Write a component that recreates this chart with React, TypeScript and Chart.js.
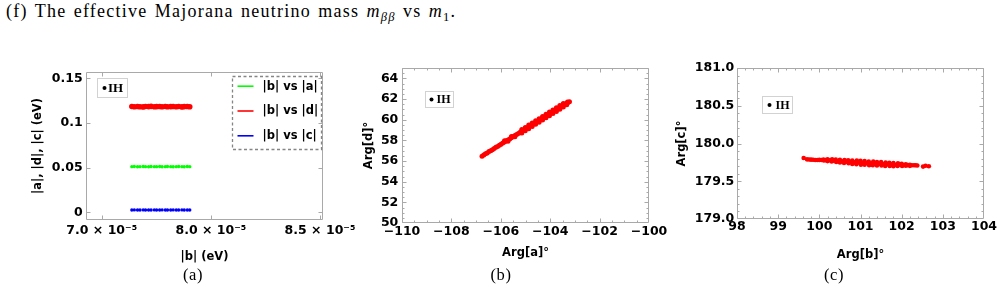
import React, { useEffect, useRef } from 'react';
import { Chart, registerables } from 'chart.js';

Chart.register(...registerables);

// ---------------- Panel (a): |b| vs |a|, |d|, |c| ----------------
const absB = [7.207e-5, 7.224e-5, 7.246e-5, 7.263e-5, 7.285e-5, 7.301e-5, 7.322e-5, 7.339e-5, 7.361e-5, 7.377e-5, 7.398e-5,
  7.415e-5, 7.437e-5, 7.452e-5, 7.474e-5, 7.491e-5, 7.512e-5, 7.529e-5, 7.551e-5, 7.567e-5, 7.588e-5, 7.605e-5];
const absA = [0.0511, 0.0512, 0.0510, 0.0511, 0.0512, 0.0511, 0.0510, 0.0512, 0.0511, 0.0511, 0.0512,
  0.0510, 0.0511, 0.0512, 0.0511, 0.0510, 0.0511, 0.0512, 0.0511, 0.0510, 0.0512, 0.0511];
const absD = [0.1184, 0.1181, 0.1185, 0.1182, 0.1180, 0.1184, 0.1183, 0.1186, 0.1181, 0.1183, 0.1185,
  0.1182, 0.1184, 0.1181, 0.1183, 0.1185, 0.1182, 0.1184, 0.1180, 0.1183, 0.1185, 0.1182];
const absC = [0.0026, 0.0027, 0.0026, 0.0026, 0.0027, 0.0026, 0.0025, 0.0026, 0.0027, 0.0026, 0.0026,
  0.0027, 0.0026, 0.0025, 0.0026, 0.0027, 0.0026, 0.0026, 0.0027, 0.0026, 0.0025, 0.0026];
const seriesNamesA = ['|b| vs |a|', '|b| vs |d|', '|b| vs |c|'];
const xTicksA = [7.0e-5, 7.75e-5, 8.5e-5];
const xTickLabelsA = ['7.0 × 10⁻⁵', '8.0 × 10⁻⁵', '8.5 × 10⁻⁵'];
const yTicksA = [0, 0.05, 0.1, 0.15];
const yTickLabelsA = ['0', '0.05', '0.1', '0.15'];

// ---------------- Panel (b): Arg[a] vs Arg[d] ----------------
const argA = [
  -106.76, -106.62, -106.48, -106.34, -106.20, -106.06, -105.92, -105.78, -105.64, -105.50, -105.36, -105.22, -105.08,
  -104.94, -104.80, -104.66, -104.52, -104.38, -104.24, -104.10, -103.96, -103.82, -103.68, -103.54, -103.40, -103.28,
  -106.69, -106.55, -106.41, -106.27, -106.13, -105.99, -105.85, -105.71, -105.57, -105.43, -105.29, -105.15, -105.01,
  -104.87, -104.73, -104.59, -104.45, -104.31, -104.17, -104.03, -103.89, -103.75, -103.61, -103.47, -103.34,
  -105.85, -105.71, -105.57, -105.43,
  -105.15, -104.87, -104.59, -104.31, -104.03, -103.75, -103.47,
  -105.01, -104.73, -104.45, -104.17, -103.89, -103.61, -103.33,
  -105.01, -104.73, -104.45, -104.17, -103.89, -103.61, -103.30,
  -105.15, -104.87, -104.59, -104.31, -104.03, -103.75, -103.47,
  -103.22,
];
const argD = [
  56.46, 56.70, 56.92, 57.10, 57.33, 57.52, 57.73, 57.95, 58.14, 58.36, 58.57, 58.78, 58.98,
  59.20, 59.40, 59.62, 59.83, 60.03, 60.25, 60.45, 60.66, 60.87, 61.08, 61.28, 61.50, 61.66,
  56.57, 56.78, 56.99, 57.20, 57.40, 57.62, 57.83, 58.03, 58.25, 58.46, 58.66, 58.88, 59.08,
  59.30, 59.50, 59.72, 59.92, 60.14, 60.35, 60.55, 60.77, 60.97, 61.19, 61.40, 61.59,
  57.96, 57.91, 58.38, 58.34,
  59.06, 59.48, 59.89, 60.31, 60.73, 61.15, 61.57,
  58.92, 59.34, 59.76, 60.18, 60.60, 61.02, 61.44,
  59.25, 59.68, 60.09, 60.52, 60.93, 61.36, 61.72,
  58.71, 59.12, 59.55, 59.96, 60.39, 60.80, 61.23,
  61.74,
];
const xTicksB = [-110, -108, -106, -104, -102, -100];
const xTickLabelsB = ['−110', '−108', '−106', '−104', '−102', '−100'];
const yTicksB = [50, 52, 54, 56, 58, 60, 62, 64];
const yTickLabelsB = ['50', '52', '54', '56', '58', '60', '62', '64'];

// ---------------- Panel (c): Arg[b] vs Arg[c] ----------------
const argB = [
  99.62, 99.70, 99.75, 99.80, 99.85, 99.90, 99.95, 100.00,
  100.10, 100.20, 100.31, 100.40, 100.50, 100.61, 100.70, 100.80, 100.91, 101.00, 101.10, 101.20, 101.31, 101.40, 101.50,
  101.61, 101.70, 101.80, 101.91, 102.00, 102.10, 102.20,
  100.11, 100.20, 100.30, 100.41, 100.50, 100.60, 100.71, 100.80, 100.90, 101.01, 101.10, 101.21, 101.30, 101.40, 101.51,
  101.60, 101.71, 101.80, 101.90, 102.01, 102.10, 102.20,
  100.05, 100.15, 100.25, 100.35, 100.45, 100.55, 100.65, 100.75, 100.85, 100.95, 101.05, 101.15, 101.25, 101.35, 101.45,
  101.55, 101.65, 101.75, 101.85, 101.95, 102.05, 102.15, 102.25,
  102.30, 102.34, 102.38, 102.52, 102.58, 102.66,
];
const argC = [
  179.808, 179.790, 179.788, 179.786, 179.784, 179.781, 179.782, 179.783,
  179.789, 179.792, 179.790, 179.786, 179.784, 179.780, 179.779, 179.775, 179.774, 179.770, 179.768, 179.762, 179.761, 179.755, 179.753,
  179.747, 179.746, 179.740, 179.737, 179.730, 179.726, 179.719,
  179.774, 179.767, 179.763, 179.755, 179.750, 179.742, 179.738, 179.730, 179.726, 179.718, 179.718, 179.713, 179.712, 179.708, 179.708,
  179.703, 179.703, 179.698, 179.702, 179.701, 179.705, 179.704,
  179.781, 179.780, 179.779, 179.773, 179.769, 179.765, 179.759, 179.757, 179.750, 179.748, 179.743, 179.741, 179.736, 179.735, 179.730,
  179.729, 179.724, 179.723, 179.718, 179.718, 179.715, 179.714, 179.711,
  179.711, 179.712, 179.709, 179.694, 179.706, 179.699,
];
const xTicksC = [98, 99, 100, 101, 102, 103, 104];
const xTickLabelsC = ['98', '99', '100', '101', '102', '103', '104'];
const yTicksC = [179.0, 179.5, 180.0, 180.5, 181.0];
const yTickLabelsC = ['179.0', '179.5', '180.0', '180.5', '181.0'];

const legendName = 'IH';

// ---------------- helpers ----------------
const SANS = '"DejaVu Sans", sans-serif';
const SERIF = '"Liberation Serif", "Times New Roman", serif';

const framePlugin = {
  id: 'mmaFrame',
  afterDraw(chart: any, _args: any, opts: any) {
    const { ctx, chartArea } = chart;
    const xs = chart.scales.x;
    const ys = chart.scales.y;
    const L = Math.round(chartArea.left) + 0.5;
    const R = Math.round(chartArea.right) - 0.5;
    const T = Math.round(chartArea.top) + 0.5;
    const B = Math.round(chartArea.bottom) - 0.5;
    ctx.save();
    ctx.strokeStyle = '#a9a9a9';
    ctx.lineWidth = 1;
    ctx.beginPath();
    ctx.rect(L, T, R - L, B - T);
    ctx.stroke();
    ctx.beginPath();
    const seg = (x1: number, y1: number, x2: number, y2: number) => { ctx.moveTo(x1, y1); ctx.lineTo(x2, y2); };
    const drawX = (v: number, len: number) => {
      const p = Math.round(xs.getPixelForValue(v)) + 0.5;
      if (p < L - 0.1 || p > R + 0.1) return;
      seg(p, B, p, B - len); seg(p, T, p, T + len);
    };
    const drawY = (v: number, len: number) => {
      const p = Math.round(ys.getPixelForValue(v)) + 0.5;
      if (p < T - 0.1 || p > B + 0.1) return;
      seg(L, p, L + len, p); seg(R, p, R - len, p);
    };
    xs.ticks.forEach((t: any) => drawX(t.value, opts.major));
    ys.ticks.forEach((t: any) => drawY(t.value, opts.major));
    if (opts.xMinor) {
      const n0 = Math.ceil(xs.min / opts.xMinor - 1e-6);
      const n1 = Math.floor(xs.max / opts.xMinor + 1e-6);
      for (let n = n0; n <= n1; n++) drawX(n * opts.xMinor, opts.minor);
    }
    if (opts.yMinor) {
      const n0 = Math.ceil(ys.min / opts.yMinor - 1e-6);
      const n1 = Math.floor(ys.max / opts.yMinor + 1e-6);
      for (let n = n0; n <= n1; n++) drawY(n * opts.yMinor, opts.minor);
    }
    ctx.stroke();

    const ih = opts.ih;
    if (ih) {
      const bx = Math.round(chartArea.left + ih.x) + 0.5;
      const by = Math.round(chartArea.top + ih.y) + 0.5;
      ctx.fillStyle = '#ffffff';
      ctx.fillRect(bx, by, ih.w, ih.h);
      ctx.strokeStyle = '#d2d2d2';
      ctx.lineWidth = 1;
      ctx.strokeRect(bx, by, ih.w, ih.h);
      ctx.fillStyle = '#000';
      ctx.beginPath();
      ctx.arc(bx + ih.dot, by + ih.h / 2, 2, 0, Math.PI * 2);
      ctx.fill();
      ctx.font = `bold ${ih.size}px ${SERIF}`;
      ctx.textAlign = 'left';
      ctx.textBaseline = 'middle';
      ctx.fillText(opts.name, bx + ih.tx, by + ih.h / 2 + 0.5);
    }

    const lg = opts.lines;
    if (lg) {
      const bx = Math.round(chartArea.left + lg.x) + 0.5;
      const by = Math.round(chartArea.top + lg.y) + 0.5;
      ctx.setLineDash([3, 2.5]);
      ctx.strokeStyle = '#858585';
      ctx.lineWidth = 1.3;
      ctx.strokeRect(bx, by, lg.w, lg.h);
      ctx.setLineDash([]);
      chart.data.datasets.forEach((ds: any, i: number) => {
        const y = by + lg.row0 + i * lg.rowGap;
        ctx.strokeStyle = ds.backgroundColor;
        ctx.lineWidth = 1.6;
        ctx.beginPath();
        ctx.moveTo(bx + 5, y);
        ctx.lineTo(bx + 21, y);
        ctx.stroke();
        ctx.fillStyle = '#000';
        ctx.font = `bold 11.5px ${SANS}`;
        ctx.textAlign = 'left';
        ctx.textBaseline = 'middle';
        ctx.fillText(ds.label, bx + 30, y + 0.5);
      });
    }
    ctx.restore();
  },
};

type AxisOpts = {
  min: number; max: number; ticks: number[]; labels: string[]; size: number;
  title: string; titlePad: number; tickPad: number; horizontal: boolean;
};

function axis(o: AxisOpts): any {
  return {
    type: 'linear',
    min: o.min,
    max: o.max,
    grid: { display: false, drawTicks: false },
    border: { display: false },
    afterBuildTicks: (s: any) => { s.ticks = o.ticks.map((v) => ({ value: v })); },
    afterFit: (s: any) => { if (o.horizontal) s.height = o.size; else s.width = o.size; },
    ticks: {
      autoSkip: false,
      maxRotation: 0,
      minRotation: 0,
      padding: o.tickPad,
      color: '#000',
      font: { family: SANS, weight: 'bold', size: 12.5 },
      callback: (_v: any, i: number) => o.labels[i],
    },
    title: {
      display: true,
      text: o.title,
      color: '#000',
      font: { family: SANS, weight: 'bold', size: 11.5 },
      padding: o.horizontal ? { top: 0, bottom: o.titlePad } : { top: o.titlePad, bottom: 0 },
    },
  };
}

function pts(xs: number[], ys: number[]) {
  return xs.map((x, i) => ({ x, y: ys[i] }));
}

function baseOptions(pad: { right: number; top: number }, frame: any, x: any, y: any): any {
  return {
    responsive: false,
    maintainAspectRatio: false,
    animation: false,
    devicePixelRatio: 1,
    layout: { padding: { left: 0, right: pad.right, top: pad.top, bottom: 0 } },
    plugins: { legend: { display: false }, tooltip: { enabled: false }, mmaFrame: frame },
    elements: { point: { borderWidth: 0, hoverRadius: 0 } },
    scales: { x, y },
  };
}

function configA(): any {
  return {
    type: 'scatter',
    data: {
      datasets: [
        { label: seriesNamesA[0], data: pts(absB, absA), backgroundColor: '#00ff00', pointRadius: 1.7 },
        { label: seriesNamesA[1], data: pts(absB, absD), backgroundColor: '#ff0000', pointRadius: 2.8 },
        { label: seriesNamesA[2], data: pts(absB, absC), backgroundColor: '#0000ff', pointRadius: 1.7 },
      ],
    },
    options: baseOptions(
      { right: 42, top: 22 },
      {
        major: 4, minor: 2, name: legendName,
        ih: { x: 11, y: 6, w: 30, h: 19, dot: 7, tx: 10.5, size: 13 },
        lines: { x: 146, y: 4, w: 89, h: 73, row0: 9.7, rowGap: 24.8 },
      },
      axis({ min: 6.892e-5, max: 8.5206e-5, ticks: xTicksA, labels: xTickLabelsA, size: 60, title: '|b| (eV)', titlePad: 16.4, tickPad: 3.5, horizontal: true }),
      axis({ min: -0.00862, max: 0.15705, ticks: yTicksA, labels: yTickLabelsA, size: 86, title: '|a|, |d|, |c| (eV)', titlePad: 31.4, tickPad: 3.3, horizontal: false }),
    ),
    plugins: [framePlugin],
  };
}

function configB(): any {
  return {
    type: 'scatter',
    data: { datasets: [{ label: legendName, data: pts(argA, argD), backgroundColor: '#ff0000', pointRadius: 2.5 }] },
    options: baseOptions(
      { right: 26, top: 18 },
      { major: 4, minor: 2, xMinor: 0.5, yMinor: 0.5, name: legendName, ih: { x: 23, y: 23.4, w: 28, h: 16, dot: 6, tx: 11, size: 12 } },
      axis({ min: -110, max: -100, ticks: xTicksB, labels: xTickLabelsB, size: 57, title: 'Arg[a]°', titlePad: 19.8, tickPad: 1.5, horizontal: true }),
      axis({ min: 50, max: 65, ticks: yTicksB, labels: yTickLabelsB, size: 72, title: 'Arg[d]°', titlePad: 32.4, tickPad: 3.7, horizontal: false }),
    ),
    plugins: [framePlugin],
  };
}

function configC(): any {
  return {
    type: 'scatter',
    data: { datasets: [{ label: legendName, data: pts(argB, argC), backgroundColor: '#ff0000', pointRadius: 2.3 }] },
    options: baseOptions(
      { right: 18, top: 18 },
      { major: 4, minor: 2, xMinor: 0.2, yMinor: 0.1, name: legendName, ih: { x: 25.3, y: 28.4, w: 30, h: 17, dot: 7, tx: 13, size: 12 } },
      axis({ min: 98, max: 104, ticks: xTicksC, labels: xTickLabelsC, size: 61, title: 'Arg[b]°', titlePad: 18.1, tickPad: 0, horizontal: true }),
      axis({ min: 179, max: 181, ticks: yTicksC, labels: yTickLabelsC, size: 77, title: 'Arg[c]°', titlePad: 14.8, tickPad: 2.7, horizontal: false }),
    ),
    plugins: [framePlugin],
  };
}

function Panel(props: { left: number; top: number; width: number; height: number; make: () => any }) {
  const ref = useRef<HTMLCanvasElement>(null);
  useEffect(() => {
    const chart = new Chart(ref.current as HTMLCanvasElement, props.make());
    return () => chart.destroy();
  }, []);
  return (
    <canvas
      ref={ref}
      width={props.width}
      height={props.height}
      style={{ position: 'absolute', left: props.left, top: props.top, width: props.width, height: props.height }}
    />
  );
}

const capStyle: React.CSSProperties = {
  position: 'absolute', top: 265, fontFamily: SERIF, fontSize: 16.5, lineHeight: '20px', letterSpacing: '0.6px',
  transform: 'translateX(-50%)', whiteSpace: 'nowrap', color: '#000',
};
const subStyle: React.CSSProperties = { fontSize: '0.7em', verticalAlign: '-0.3em', lineHeight: 0 };

export default function App() {
  return (
    <div style={{ position: 'absolute', left: 0, top: 0, width: 1002, height: 294, background: '#fff', overflow: 'hidden' }}>
      <div style={{ position: 'absolute', left: 6, top: 1, fontFamily: SERIF, fontSize: 18, lineHeight: '20px', letterSpacing: '1.25px', wordSpacing: '1.5px', whiteSpace: 'nowrap', color: '#000' }}>
        (f) The effective Majorana neutrino mass <i>m</i><sub style={subStyle}><i>ββ</i></sub> vs <i>m</i><sub style={subStyle}>1</sub>.
      </div>
      <Panel left={0} top={50} width={365} height={230} make={configA} />
      <Panel left={330} top={50} width={345} height={230} make={configB} />
      <Panel left={660} top={50} width={342} height={230} make={configC} />
      <div style={{ ...capStyle, left: 193 }}>(a)</div>
      <div style={{ ...capStyle, left: 501 }}>(b)</div>
      <div style={{ ...capStyle, left: 834 }}>(c)</div>
    </div>
  );
}
